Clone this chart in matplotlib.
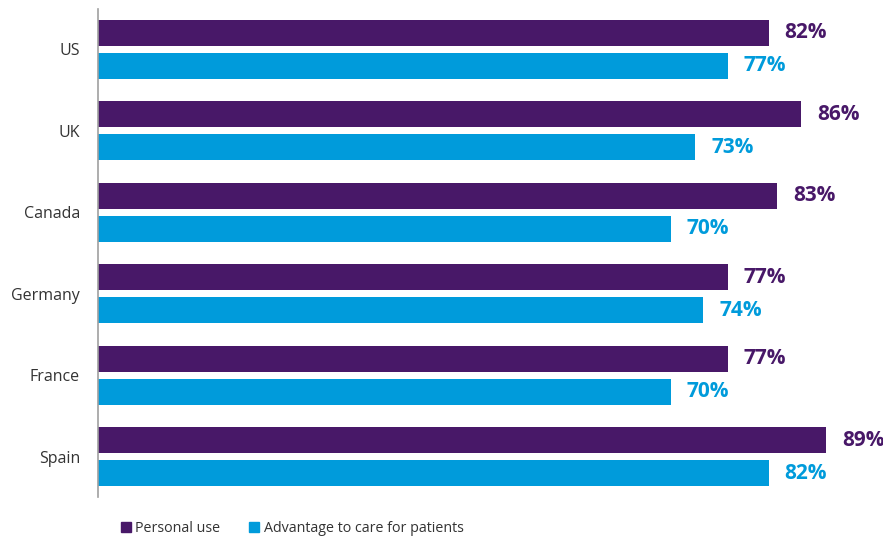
import matplotlib
matplotlib.use("Agg")
import matplotlib.pyplot as plt
from matplotlib.lines import Line2D
import numpy as np

categories = ["US", "UK", "Canada", "Germany", "France", "Spain"]
personal_use = [82, 86, 83, 77, 77, 89]
care_advantage = [77, 73, 70, 74, 70, 82]
series_names = ["Personal use", "Advantage to care for patients"]

PURPLE = "#481868"
BLUE = "#009BDB"
FONT = "Open Sans"

fig = plt.figure(figsize=(8.83, 5.38), dpi=100)
ax = fig.add_axes([98 / 883, 1 - 497 / 538, 1 - 98 / 883, (497 - 9) / 538])

y = np.arange(len(categories))
off = 33 / 81.4 / 2
h = 26 / 81.4
ax.barh(y - off, personal_use, height=h, color=PURPLE)
ax.barh(y + off, care_advantage, height=h, color=BLUE)

for yi, v in zip(y, personal_use):
    ax.annotate(f"{v}%", (v, yi - off), xytext=(11.5, 0), textcoords="offset points",
                va="center", ha="left", color=PURPLE, fontsize=15, fontweight="bold", family=FONT)
for yi, v in zip(y, care_advantage):
    ax.annotate(f"{v}%", (v, yi + off), xytext=(11.5, 0), textcoords="offset points",
                va="center", ha="left", color=BLUE, fontsize=15, fontweight="bold", family=FONT)

ax.set_xlim(0, 785 / 8.18)
ax.set_ylim(len(categories) - 0.5025, -0.4975)
ax.set_yticks(y)
ax.set_yticklabels(categories, family=FONT, fontsize=11.5, color="#333333")
ax.tick_params(axis="y", length=0, pad=13)
ax.set_xticks([])
for s in ["top", "right", "bottom"]:
    ax.spines[s].set_visible(False)
ax.spines["left"].set_color("#a0a0a0")
ax.spines["left"].set_linewidth(1.2)

handles = [Line2D([], [], marker="s", linestyle="none", markersize=6.5, color=c) for c in (PURPLE, BLUE)]
leg = fig.legend(handles, series_names, loc="center left", bbox_to_anchor=(120 / 883, 1 - 529 / 538),
                 ncol=2, frameon=False, borderpad=0, borderaxespad=0, handlelength=0.8,
                 handletextpad=0.25, columnspacing=2.0, prop={"family": FONT, "size": 10.3})
for t in leg.get_texts():
    t.set_color("#333333")

fig.savefig("out.png", dpi=100)
